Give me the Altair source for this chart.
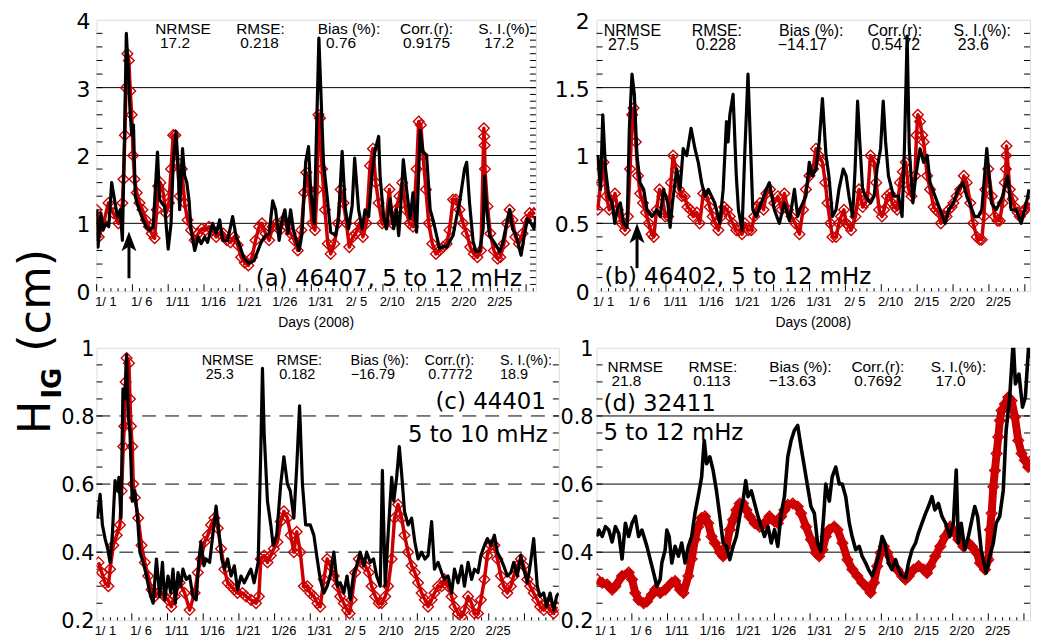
import altair as alt
import numpy as np
import pandas as pd

RED = "#cc0000"

# ---------------- x tick labels ----------------
tick_days = [1, 6, 11, 16, 21, 26, 31, 36, 41, 46, 51, 56]
tick_labels = ["1/ 1", "1/ 6", "1/11", "1/16", "1/21", "1/26", "1/31",
               "2/ 5", "2/10", "2/15", "2/20", "2/25"]

stat_names = ["NRMSE", "RMSE:", "Bias (%):", "Corr.(r):", "S. I.(%):"]

# y tick values / labels / gridlines per panel
a_yticks = [0, 1, 2, 3, 4]
a_ylabels = ["0", "1", "2", "3", "4"]
a_grid = [1, 2, 3]
b_yticks = [0, 0.5, 1, 1.5, 2]
b_ylabels = ["0", "0.5", "1", "1.5", "2"]
b_grid = [0.5, 1, 1.5]
cd_yticks = [0.2, 0.4, 0.6, 0.8, 1.0]
cd_ylabels = ["0.2", "0.4", "0.6", "0.8", "1"]
cd_grid = [0.4, 0.6, 0.8]

# ---------------- panel (a) 46407 ----------------
a_obs_day = [-0.3, -0.1, 0.3, 0.6, 1.0, 1.4, 1.8, 2.2, 2.6, 3.0, 3.3, 3.6, 3.85, 4.1, 4.35, 4.6, 4.85, 5.1,
             5.5, 6.0, 6.6, 7.1, 7.6, 8.2, 8.5, 8.8, 9.2, 9.7, 10.1, 10.4, 10.8, 11.1, 11.3, 11.7, 12.0,
             12.3, 12.6, 12.9, 13.4, 13.9, 14.3, 14.8, 15.2, 15.9, 16.4, 16.9, 17.3, 18.0, 18.7, 19.2,
             19.6, 20.3, 21.0, 21.7, 22.6, 23.1, 23.8, 24.3, 24.7, 25.2, 25.6, 26.0, 26.4, 26.8, 27.2,
             27.6, 28.0, 28.4, 28.9, 29.3, 29.6, 30.1, 30.75, 31.4, 31.9, 32.4, 33.1, 33.5, 34.0, 34.45,
             34.9, 35.4, 35.75, 36.3, 36.8, 37.2, 37.7, 38.2, 38.6, 39.1, 39.3, 39.8, 40.2, 40.7, 41.2,
             41.6, 41.9, 42.1, 42.55, 43.0, 43.5, 43.9, 44.4, 44.9, 45.3, 45.8, 46.3, 46.7, 47.2, 47.6,
             48.1, 48.6, 49.0, 49.5, 50.0, 50.4, 51.1, 51.4, 51.8, 52.3, 52.7, 53.2, 53.7, 53.9, 54.2,
             54.6, 55.5, 56.0, 56.4, 57.4, 57.8, 58.3, 59.0, 59.45, 59.9, 60.4, 60.8, 61.1]
a_obs_val = [1.2, 0.65, 1.15, 0.9, 1.0, 0.95, 1.6, 1.35, 1.1, 1.2, 0.75, 2.3, 3.8, 3.3, 2.7, 2.3, 2.45, 1.4,
             1.25, 1.1, 0.95, 0.9, 0.95, 2.05, 1.35, 1.3, 1.25, 0.62, 1.0, 1.9, 2.35, 1.8, 1.2, 2.1, 1.7,
             1.6, 1.35, 0.9, 0.6, 0.8, 0.7, 0.8, 0.72, 1.0, 0.85, 1.05, 0.75, 0.75, 1.1, 0.8,
             0.7, 0.48, 0.41, 0.45, 0.7, 0.8, 0.85, 1.33, 1.2, 0.75, 1.05, 1.2, 0.85, 1.2, 0.9,
             0.75, 0.6, 0.85, 1.9, 2.13, 1.5, 1.0, 3.73, 1.89, 1.4, 0.87, 0.82, 1.07, 2.06, 1.21,
             0.92, 1.26, 1.96, 1.2, 0.92, 1.2, 1.1, 1.75, 2.08, 2.28, 1.7, 1.1, 0.92, 1.36, 0.92,
             1.2, 0.82, 1.1, 1.94, 1.5, 1.07, 1.45, 0.87, 2.37, 2.05, 2.0, 1.2, 1.05, 0.82, 0.63,
             0.66, 0.65, 0.73, 0.82, 1.1, 1.3, 1.8, 1.9, 1.3, 0.73, 0.58, 0.6, 0.92, 1.7, 1.2,
             0.82, 0.68, 0.58, 0.7, 1.2, 0.92, 0.82, 0.53, 0.82, 1.07, 1.0, 0.92, 1.1]
a_mod_day = [-0.3, 0.0, 0.65, 1.35, 2.04, 2.74, 3.3, 3.45, 3.65, 3.8, 4.0, 4.2, 4.4, 4.6, 4.8, 5.0, 5.3, 5.7,
             6.1, 6.6, 7.0, 7.4, 7.8, 8.1, 8.3, 8.6, 9.0, 9.4, 9.8, 10.1, 10.4, 10.7, 11.0, 11.3, 11.6,
             12.0, 12.4, 12.9, 13.4, 13.9, 14.4, 14.9, 15.4, 15.9, 16.4, 16.9, 17.4, 17.9, 18.4, 18.9,
             19.4, 19.9, 20.4, 20.9, 21.4, 21.9, 22.4, 22.8, 23.3, 23.8, 24.3, 24.8, 25.3, 25.8, 26.3,
             26.8, 27.3, 27.8, 28.3, 28.7, 29.0, 29.4, 29.8, 30.2, 30.5, 30.7, 30.9, 31.2, 31.6, 32.0,
             32.4, 32.9, 33.4, 33.8, 34.2, 34.6, 35.0, 35.5, 35.9, 36.4, 36.9, 37.4, 37.9, 38.3, 38.7,
             39.1, 39.6, 40.1, 40.6, 41.0, 41.5, 42.0, 42.4, 42.9, 43.4, 43.9, 44.4, 44.7, 45.0, 45.3,
             45.7, 46.1, 46.6, 47.1, 47.6, 48.1, 48.6, 49.0, 49.5, 49.9, 50.4, 50.9, 51.4, 51.9, 52.4,
             52.9, 53.4, 53.8, 53.85, 53.9, 53.95, 54.3, 54.7, 55.2, 55.7, 56.1, 56.6, 57.0, 57.4, 57.8,
             58.2, 58.7, 59.2, 59.7, 60.2, 60.8]
a_mod_val = [1.2, 0.8, 1.0, 1.3, 1.15, 1.0, 1.3, 1.65, 2.3, 3.0, 3.5, 3.4, 2.95, 2.6, 2.0, 1.65, 1.45, 1.3,
             1.2, 1.05, 0.95, 0.85, 0.78, 1.2, 1.55, 1.6, 1.45, 1.15, 1.3, 1.8, 2.3, 2.3, 1.9, 1.4, 1.8,
             1.3, 1.05, 0.9, 0.75, 0.85, 0.92, 0.9, 0.95, 0.9, 0.8, 0.85, 0.85, 0.75, 0.72, 0.8,
             0.68, 0.5, 0.42, 0.38, 0.5, 0.75, 0.95, 1.0, 0.85, 0.75, 0.95, 1.0, 0.9, 1.05, 0.95,
             0.85, 0.75, 0.6, 0.9, 1.45, 1.75, 1.5, 1.0, 0.9, 1.5, 2.6, 2.55, 1.8, 1.2, 0.7,
             0.55, 0.7, 1.0, 1.5, 1.3, 1.0, 0.65, 0.8, 0.85, 1.0, 0.8, 1.0, 1.85, 2.1, 1.6,
             1.3, 1.0, 1.0, 1.5, 1.0, 1.2, 1.4, 1.6, 1.2, 1.0, 0.95, 1.8, 2.5, 2.45, 2.0,
             1.5, 1.0, 0.7, 0.55, 0.6, 0.65, 0.7, 0.9, 1.35, 1.35, 1.2, 1.0, 0.85, 0.65, 0.55,
             0.5, 0.6, 2.4, 2.28, 2.15, 1.8, 1.25, 0.85, 0.6, 0.48, 0.5, 0.7, 1.0, 1.2, 1.05,
             0.8, 0.7, 0.85, 1.05, 1.15, 1.15]

# ---------------- panel (b) 46402 ----------------
b_obs_day = [0.2, 0.58, 0.9, 1.28, 1.74, 2.2, 2.57, 2.9, 3.35, 3.8, 4.28, 4.6, 4.97, 5.3, 5.66, 6.1, 6.6,
             7.05, 7.74, 8.43, 8.9, 9.36, 9.96, 10.28, 10.6, 11.2, 11.66, 12.1, 12.6, 13.2, 13.74, 14.2,
             14.67, 15.13, 15.6, 16.05, 16.5, 17.2, 17.67, 18.13, 18.36, 18.6, 19.05, 19.5, 19.8, 20.3,
             20.67, 21.13, 21.6, 21.8, 22.3, 22.98, 23.67, 24.1, 24.8, 25.5, 26.2, 26.9, 27.6, 28.05,
             28.5, 29.2, 29.67, 30.1, 30.6, 31.05, 31.5, 32.0, 32.4, 32.9, 33.4, 33.8, 34.4, 34.8, 35.2,
             35.7, 36.05, 36.4, 36.7, 37.1, 37.5, 38.2, 38.7, 39.1, 39.6, 39.97, 40.3, 40.7, 41.4, 42.1,
             42.6, 42.95, 43.3, 43.6, 44.1, 44.5, 45.1, 45.6, 46.1, 46.5, 47.2, 47.9, 48.6, 49.1, 49.75,
             50.4, 51.1, 51.6, 52.0, 52.7, 53.2, 53.7, 54.4, 55.05, 55.7, 56.2, 56.6, 57.3, 57.8, 58.5,
             59.2, 59.9, 60.3]
b_obs_val = [1.0, 0.75, 1.3, 0.9, 0.7, 0.65, 0.5, 0.6, 0.65, 0.5, 0.47, 1.2, 1.6, 1.45, 1.0, 0.8, 0.75,
             0.6, 0.55, 0.6, 0.55, 0.75, 0.65, 0.47, 0.65, 0.9, 0.75, 1.05, 1.0, 1.2, 1.05, 0.95,
             0.8, 0.7, 0.75, 0.7, 0.65, 0.5, 0.75, 1.25, 1.1, 1.3, 1.45, 0.85, 0.6, 0.45,
             1.0, 1.6, 0.9, 0.6, 0.55, 0.65, 0.75, 0.8, 0.6, 0.5, 0.65, 0.52, 0.75, 0.55,
             0.62, 0.7, 0.95, 0.85, 0.9, 1.1, 1.42, 1.0, 0.85, 0.55, 0.6, 0.75, 0.9, 0.85, 0.7,
             0.55, 0.9, 1.4, 1.1, 0.75, 0.7, 0.65, 0.7, 0.9, 1.05, 1.4, 1.1, 0.85, 0.7, 0.7,
             0.55, 1.1, 1.88, 1.05, 0.65, 0.85, 1.05, 0.95, 1.0, 0.8, 0.7, 0.6, 0.5, 0.6, 0.65,
             0.75, 0.8, 0.7, 0.65, 0.55, 0.55, 0.6, 1.05, 0.65, 0.6, 0.65, 0.7, 0.85, 0.6, 0.6,
             0.5, 0.65, 0.75]
b_mod_day = [0.2, 0.6, 1.0, 1.4, 1.8, 2.2, 2.6, 3.0, 3.5, 4.0, 4.4, 4.7, 5.0, 5.2, 5.5, 5.8, 6.1, 6.5, 6.9,
             7.3, 7.7, 8.0, 8.4, 8.8, 9.2, 9.6, 10.0, 10.4, 10.7, 11.1, 11.5, 11.9, 12.3, 12.7, 13.1,
             13.5, 14.0, 14.4, 14.9, 15.4, 15.8, 16.2, 16.6, 17.0, 17.4, 17.8, 18.2, 18.6, 19.0, 19.5,
             19.9, 20.3, 20.7, 21.2, 21.6, 22.0, 22.4, 22.8, 23.3, 23.7, 24.2, 24.8, 25.3, 25.8, 26.2,
             26.7, 27.2, 27.7, 28.3, 28.8, 29.2, 29.7, 30.2, 30.6, 31.0, 31.5, 31.9, 32.2, 32.6, 32.9,
             33.4, 33.8, 34.1, 34.5, 34.8, 35.2, 35.5, 36.1, 36.6, 37.1, 37.5, 37.8, 38.2, 38.7, 39.0,
             39.4, 39.8, 40.1, 40.5, 40.9, 41.2, 41.6, 41.9, 42.3, 42.7, 43.1, 43.5, 43.9, 44.4, 44.6,
             44.8, 45.1, 45.4, 45.6, 46.1, 46.5, 47.0, 47.3, 47.7, 48.0, 48.4, 48.8, 49.1, 49.5, 49.75,
             50.2, 50.7, 51.2, 51.6, 52.1, 52.5, 53.0, 53.4, 53.7, 54.0, 54.2, 54.6, 55.1, 55.5, 55.9,
             56.2, 56.6, 56.9, 57.05, 57.1, 57.15, 57.6, 58.0, 58.3, 58.7, 59.0, 59.4, 59.7, 60.0, 60.4]
b_mod_val = [0.6, 0.8, 0.95, 0.7, 0.6, 0.65, 0.72, 0.6, 0.5, 0.45, 0.55, 0.9, 1.3, 1.35, 1.1, 0.85, 0.72,
             0.65, 0.58, 0.5, 0.42, 0.4, 0.6, 0.75, 0.7, 0.55, 0.55, 0.8, 1.0, 0.9, 0.75, 0.7, 0.7,
             0.62, 0.6, 0.55, 0.58, 0.5, 0.72, 0.7, 0.62, 0.55, 0.5, 0.45, 0.55, 0.62, 0.6, 0.55,
             0.5, 0.45, 0.45, 0.42, 0.5, 0.45, 0.45, 0.55, 0.62, 0.65, 0.6, 0.72, 0.75, 0.65, 0.7,
             0.6, 0.72, 0.6, 0.55, 0.5, 0.42, 0.6, 0.75, 0.85, 0.9, 1.05, 1.0, 0.95, 0.8, 0.65,
             0.5, 0.4, 0.4, 0.5, 0.55, 0.6, 0.5, 0.48, 0.45, 0.55, 0.75, 0.62, 0.65, 0.7, 1.0,
             0.95, 0.8, 0.6, 0.55, 0.6, 0.7, 0.72, 0.65, 0.62, 0.6, 0.8, 0.88, 0.95, 0.75, 0.7,
             0.85, 1.15, 1.3, 1.25, 1.15, 1.1, 0.85, 0.75, 0.62, 0.6, 0.58, 0.5, 0.55, 0.55, 0.6,
             0.62, 0.65, 0.7, 0.75, 0.85, 0.8, 0.65, 0.5, 0.4, 0.38, 0.38, 0.55, 0.75, 0.9, 0.7,
             0.55, 0.52, 0.52, 0.65, 0.8, 0.9, 1.0, 1.07, 0.75, 0.68, 0.62, 0.58, 0.55, 0.58, 0.6,
             0.62, 0.65]

# ---------------- panel (c) 44401 ----------------
c_obs_day = [-0.11, 0.26, 0.58, 0.95, 1.32, 1.65, 1.97, 2.35, 2.72, 2.9, 3.18, 3.46, 3.74, 3.97, 4.2, 4.44,
             4.76, 5.13, 5.5, 5.83, 6.3, 6.76, 7.22, 7.69, 8.15, 8.61, 8.99, 9.31, 9.77, 10.15, 10.47,
             10.8, 11.17, 11.54, 11.86, 12.33, 12.8, 13.26, 13.72, 14.1, 14.4, 14.8, 15.1, 15.6, 16.04,
             16.5, 16.8, 17.3, 17.67, 18.13, 18.6, 19.06, 19.52, 19.99, 20.45, 20.9, 21.38, 21.84, 22.4,
             22.77, 23.0, 23.24, 23.7, 24.17, 24.5, 25.0, 25.56, 26.0, 26.5, 26.9, 27.4, 27.8, 28.2,
             28.6, 29.05, 29.7, 30.2, 30.67, 31.1, 31.6, 32.06, 32.5, 33.0, 33.5, 33.9, 34.4, 34.85,
             35.3, 35.78, 36.2, 36.7, 37.2, 37.6, 38.1, 38.56, 39.0, 39.5, 39.8, 40.2, 40.6, 41.1,
             41.4, 41.8, 42.17, 42.5, 42.9, 43.4, 43.9, 44.35, 44.8, 45.3, 45.76, 46.2, 46.7, 47.1,
             47.6, 48.1, 48.5, 49.0, 49.5, 49.9, 50.4, 50.9, 51.3, 51.8, 52.3, 52.7, 53.2, 53.6, 54.1,
             54.5, 55.0, 55.5, 55.9, 56.4, 56.8, 57.3, 57.8, 58.2, 58.7, 59.2, 59.6, 60.1, 60.5, 61.0,
             61.5, 61.9, 62.4, 62.8, 63.3, 63.8, 64.2, 64.5]
c_obs_val = [0.5, 0.57, 0.48, 0.44, 0.41, 0.37, 0.45, 0.61, 0.58, 0.62, 0.5, 0.88, 0.85, 0.98, 0.8, 0.75,
             0.55, 0.58, 0.5, 0.4, 0.37, 0.33, 0.28, 0.25, 0.38, 0.27, 0.37, 0.26, 0.33, 0.28, 0.35,
             0.25, 0.34, 0.3, 0.35, 0.32, 0.33, 0.27, 0.26, 0.38, 0.43, 0.36, 0.38, 0.37, 0.45,
             0.535, 0.48, 0.38, 0.35, 0.38, 0.33, 0.36, 0.29, 0.33, 0.31, 0.33, 0.35, 0.31, 0.37,
             0.7, 0.94, 0.75, 0.55, 0.48, 0.42, 0.45, 0.6, 0.68, 0.6, 0.58, 0.5, 0.65, 0.83,
             0.6, 0.48, 0.48, 0.45, 0.38, 0.32, 0.28, 0.3, 0.33, 0.4, 0.3, 0.31, 0.28, 0.33,
             0.26, 0.34, 0.36, 0.4, 0.36, 0.4, 0.37, 0.38, 0.33, 0.3, 0.64, 0.3, 0.45, 0.62,
             0.55, 0.62, 0.71, 0.63, 0.52, 0.48, 0.5, 0.43, 0.38, 0.4, 0.38, 0.39, 0.49, 0.35,
             0.37, 0.34, 0.32, 0.33, 0.28, 0.35, 0.31, 0.36, 0.3, 0.37, 0.32, 0.35, 0.34, 0.39, 0.42,
             0.44, 0.42, 0.45, 0.4, 0.38, 0.36, 0.33, 0.34, 0.37, 0.33, 0.39, 0.35, 0.31, 0.36, 0.44,
             0.3, 0.27, 0.28, 0.24, 0.28, 0.23, 0.27, 0.28]
c_mod_day = [0.03, 0.49, 0.95, 1.42, 1.65, 2.11, 2.58, 3.04, 3.27, 3.5, 3.65, 3.83, 3.97, 4.3, 4.44, 4.57,
             4.76, 4.9, 5.13, 5.6, 6.06, 6.52, 6.99, 7.45, 7.92, 8.38, 8.85, 9.31, 9.77, 10.24, 10.7,
             11.4, 12.1, 12.8, 13.5, 13.95, 14.4, 14.9, 15.35, 15.8, 16.27, 16.74, 17.2, 17.67, 18.13,
             18.6, 19.06, 19.5, 20.2, 20.7, 21.4, 22.1, 22.5, 22.77, 23.24, 23.7, 24.17, 24.6, 25.1,
             25.56, 26.0, 26.5, 26.95, 27.4, 27.8, 28.3, 28.8, 29.3, 29.7, 30.2, 30.7, 31.1, 31.6,
             32.06, 32.5, 33.0, 33.5, 33.9, 34.4, 34.85, 35.2, 35.5, 36.0, 36.5, 36.9, 37.4, 37.9,
             38.3, 38.8, 39.3, 39.7, 40.2, 40.6, 41.1, 41.5, 42.0, 42.5, 42.9, 43.4, 43.9, 44.35,
             44.8, 45.3, 45.76, 46.2, 46.7, 47.1, 47.6, 48.1, 48.5, 49.0, 49.5, 49.9, 50.4, 50.9,
             51.3, 51.8, 52.3, 52.7, 53.2, 53.6, 54.1, 54.5, 55.0, 55.5, 55.9, 56.4, 56.8, 57.3,
             57.8, 58.2, 58.7, 59.2, 59.6, 60.1, 60.5, 61.0, 61.5, 61.9, 62.4, 62.8, 63.3, 63.8, 64.2]
c_mod_val = [0.37, 0.34, 0.31, 0.3, 0.35, 0.42, 0.45, 0.48, 0.58, 0.71, 0.77, 0.9, 0.97, 0.955, 0.85, 0.77,
             0.71, 0.6, 0.56, 0.5, 0.42, 0.37, 0.33, 0.29, 0.27, 0.28, 0.28, 0.27, 0.26, 0.24, 0.27,
             0.31, 0.28, 0.23, 0.28, 0.34, 0.38, 0.43, 0.45, 0.48, 0.5, 0.47, 0.41, 0.35, 0.31,
             0.3, 0.29, 0.28, 0.28, 0.27, 0.26, 0.25, 0.27, 0.38, 0.39, 0.37, 0.39, 0.41, 0.43,
             0.49, 0.52, 0.5, 0.45, 0.4, 0.46, 0.4, 0.3, 0.3, 0.28, 0.27, 0.25, 0.24, 0.32,
             0.38, 0.36, 0.33, 0.3, 0.27, 0.25, 0.23, 0.22, 0.26, 0.34, 0.38, 0.37, 0.36, 0.34,
             0.3, 0.27, 0.25, 0.25, 0.27, 0.3, 0.38, 0.5, 0.54, 0.5, 0.45, 0.4, 0.36, 0.34,
             0.31, 0.28, 0.26, 0.24, 0.26, 0.28, 0.3, 0.3, 0.32, 0.3, 0.27, 0.24, 0.22, 0.21,
             0.23, 0.27, 0.25, 0.22, 0.22, 0.26, 0.32, 0.39, 0.42, 0.42, 0.38, 0.33, 0.3, 0.28,
             0.3, 0.33, 0.36, 0.38, 0.36, 0.32, 0.3, 0.28, 0.26, 0.24, 0.23, 0.25, 0.23, 0.22, 0.24]

# ---------------- panel (d) 32411 ----------------
d_obs_day = [-0.26, 0.07, 0.54, 1.0, 1.46, 1.93, 2.39, 2.86, 3.32, 3.79, 4.25, 4.72, 5.18, 5.65, 6.11, 6.81,
             7.28, 7.74, 8.2, 8.67, 8.9, 9.37, 9.6, 9.93, 10.3, 10.76, 11.23, 11.69, 12.16, 12.62, 13.09,
             13.55, 14.0, 14.48, 14.85, 15.18, 15.64, 16.1, 16.57, 17.04, 17.5, 17.97, 18.43, 18.9, 19.36,
             19.83, 20.3, 20.67, 21.0, 21.46, 21.92, 22.39, 22.85, 23.3, 23.8, 24.25, 24.71, 25.17, 25.64,
             26.1, 26.57, 27.04, 27.5, 27.96, 28.43, 28.9, 29.36, 29.82, 30.3, 30.75, 31.2, 31.6, 31.9,
             32.4, 32.8, 33.3, 33.8, 34.2, 34.7, 35.2, 35.6, 36.1, 36.6, 37.0, 37.5, 37.9, 38.4, 38.9,
             39.3, 39.8, 40.2, 40.7, 41.2, 41.7, 42.1, 42.6, 43.1, 43.5, 44.0, 44.5, 44.9, 45.4, 45.9,
             46.3, 46.8, 47.2, 47.7, 48.2, 48.7, 49.3, 49.8, 50.2, 50.5, 50.9, 51.4, 51.9, 52.3, 52.8,
             53.2, 53.7, 54.4, 54.9, 55.4, 55.8, 56.3, 56.8, 57.2, 57.7, 58.2, 58.5, 59.0, 59.5, 59.9,
             60.4, 60.6]
d_obs_val = [0.446, 0.465, 0.446, 0.475, 0.465, 0.43, 0.475, 0.455, 0.38, 0.485, 0.446, 0.485, 0.505, 0.446,
             0.465, 0.417, 0.378, 0.34, 0.3, 0.32, 0.368, 0.407, 0.465, 0.446, 0.368, 0.417, 0.388, 0.427,
             0.368, 0.417, 0.446, 0.514, 0.563, 0.62, 0.728, 0.66, 0.68, 0.64, 0.58, 0.505, 0.427, 0.417,
             0.378, 0.417, 0.446, 0.505, 0.553, 0.61, 0.563, 0.58, 0.543, 0.505, 0.475, 0.446, 0.475,
             0.427, 0.466, 0.417, 0.514, 0.563, 0.68, 0.728, 0.758, 0.772, 0.709, 0.65, 0.592, 0.534,
             0.514, 0.427, 0.402, 0.505, 0.6, 0.55, 0.621, 0.65, 0.6, 0.6, 0.563, 0.485, 0.446, 0.407,
             0.417, 0.388, 0.368, 0.349, 0.33, 0.359, 0.388, 0.446, 0.427, 0.368, 0.349, 0.378, 0.349,
             0.33, 0.325, 0.368, 0.407, 0.427, 0.456, 0.485, 0.514, 0.534, 0.563, 0.524, 0.543, 0.505,
             0.485, 0.446, 0.485, 0.641, 0.427, 0.485, 0.407, 0.446, 0.485, 0.534, 0.505, 0.407, 0.339,
             0.388, 0.427, 0.485, 0.505, 0.582, 0.758, 0.855, 1.02, 0.894, 0.923, 0.826, 0.855, 1.02, 0.97]
d_mod_day = [-0.16, 0.54, 1.23, 1.93, 2.39, 3.32, 4.25, 4.72, 5.18, 5.65, 6.35, 6.81, 7.5, 7.97, 8.67, 9.37,
             10.3, 10.76, 11.46, 11.93, 12.62, 13.09, 13.55, 14.0, 14.48, 14.95, 15.41, 15.88, 16.34,
             17.04, 17.5, 17.97, 18.43, 18.9, 19.36, 19.83, 20.3, 20.76, 21.22, 21.92, 22.62, 23.3, 24.0,
             24.7, 25.17, 25.64, 26.1, 26.57, 27.27, 27.96, 28.43, 29.13, 29.82, 30.52, 30.98, 31.45,
             31.9, 32.38, 33.08, 33.54, 34.24, 34.94, 35.63, 36.33, 37.03, 37.73, 38.19, 38.66, 39.12,
             39.59, 40.05, 40.52, 41.21, 41.91, 42.61, 43.07, 43.54, 44.24, 44.93, 45.63, 46.1, 46.56,
             47.26, 47.96, 48.65, 49.35, 50.05, 50.52, 51.21, 51.91, 52.38, 53.08, 53.54, 54.24, 54.7,
             54.94, 55.17, 55.4, 55.63, 55.87, 56.1, 56.33, 56.56, 57.03, 57.5, 57.96, 58.43, 58.9,
             59.36, 59.83, 60.3, 60.74]
d_mod_val = [0.32, 0.31, 0.305, 0.29, 0.3, 0.33, 0.34, 0.32, 0.28, 0.26, 0.25, 0.255, 0.275, 0.29, 0.28, 0.29,
             0.31, 0.315, 0.29, 0.28, 0.33, 0.38, 0.437, 0.475, 0.5, 0.505, 0.485, 0.446, 0.427,
             0.4, 0.388, 0.417, 0.466, 0.495, 0.524, 0.543, 0.543, 0.524, 0.505, 0.485, 0.475, 0.485, 0.505,
             0.49, 0.485, 0.505, 0.524, 0.539, 0.543, 0.534, 0.514, 0.475, 0.437, 0.398, 0.388, 0.407,
             0.446, 0.466, 0.475, 0.466, 0.427, 0.378, 0.349, 0.33, 0.31, 0.295, 0.281, 0.31, 0.359,
             0.398, 0.417, 0.398, 0.368, 0.349, 0.33, 0.32, 0.33, 0.349, 0.359, 0.349, 0.339, 0.359,
             0.388, 0.417, 0.446, 0.475, 0.456, 0.437, 0.417, 0.427, 0.417, 0.398, 0.368, 0.349, 0.378,
             0.466, 0.514, 0.592, 0.64, 0.69, 0.738, 0.787, 0.816, 0.835, 0.855, 0.845, 0.797, 0.728,
             0.69, 0.67, 0.65, 0.67]

# ---------------- statistics ----------------
a_stats = ["17.2", "0.218", "0.76", "0.9175", "17.2"]
b_stats = ["27.5", "0.228", "\u221214.17", "0.5472", "23.6"]
c_stats = ["25.3", "0.182", "\u221216.79", "0.7772", "18.9"]
d_stats = ["21.8", "0.113", "\u221213.63", "0.7692", "17.0"]

# arrows (day, tip value, base value)
a_arrow = [4.22, 0.88, 0.19]
b_arrow = [5.67, 0.50, 0.17]

one = pd.DataFrame({"k": [0]})


def txt(s, x, y, size, font="Liberation Sans", align="center", weight="normal", angle=0):
    kw = dict(align=align, baseline="alphabetic", font=font, fontSize=size, color="black",
              fontWeight=weight)
    if angle:
        kw["angle"] = angle
    return alt.Chart(one).mark_text(**kw).encode(
        x=alt.value(x), y=alt.value(y), text=alt.value(s))


def panel(obs_d, obs_v, mod_d, mod_v, xdom, ydom, yticks, ylabels, grid, yfont, ypad, minor_l, minor_r,
          W, H, dash, xtitle, stats, lab_x, val_x, lab_y, val_y, ssize, tags, band, lw=3.2,
          arrow=None, extra=()):
    xs = alt.Scale(domain=xdom, nice=False, zero=False)
    ys = alt.Scale(domain=ydom, nice=False, zero=False)
    X = lambda f: alt.X(f, scale=xs, axis=None)
    Y = lambda f: alt.Y(f, scale=ys, axis=None)

    obs = pd.DataFrame({"day": obs_d, "val": obs_v})
    mod = pd.DataFrame({"day": mod_d, "val": mod_v})

    layers = []
    # gridlines
    gkw = dict(color="black", strokeWidth=1)
    if dash:
        gkw["strokeDash"] = dash
    layers.append(alt.Chart(pd.DataFrame({"g": grid})).mark_rule(**gkw).encode(
        y=Y("g:Q"), x=alt.value(0), x2=alt.value(W)))
    # y tick labels
    layers.append(alt.Chart(pd.DataFrame({"v": yticks, "lab": ylabels})).mark_text(
        align="right", baseline="middle", dy=2, font="DejaVu Sans", fontSize=yfont, color="black").encode(
        y=Y("v:Q"), x=alt.value(-ypad), text="lab:N"))
    # x tick labels
    layers.append(alt.Chart(pd.DataFrame({"d": tick_days, "lab": tick_labels})).mark_text(
        align="center", baseline="top", font="Liberation Sans", fontSize=13, color="black").encode(
        x=X("d:Q"), y=alt.value(H + 5), text="lab:N"))
    if xtitle:
        layers.append(txt(xtitle, W / 2, H + 36, 14))
    # inward minor ticks
    layers.append(alt.Chart(pd.DataFrame({"v": minor_l})).mark_rule(color="black", strokeWidth=1).encode(
        y=Y("v:Q"), x=alt.value(0), x2=alt.value(6)))
    layers.append(alt.Chart(pd.DataFrame({"v": minor_r})).mark_rule(color="black", strokeWidth=1).encode(
        y=Y("v:Q"), x=alt.value(W - 6), x2=alt.value(W)))
    kday = [k + 0.7 for k in range(-1, 66) if xdom[0] < k + 0.7 < xdom[1]]
    small = pd.DataFrame({"d": [d for d in kday if round(d - 0.7) % 5 != 4]})
    tall = pd.DataFrame({"d": [d for d in kday if round(d - 0.7) % 5 == 4]})
    layers.append(alt.Chart(small).mark_rule(color="black", strokeWidth=1).encode(
        x=X("d:Q"), y=alt.value(H - 3), y2=alt.value(H)))
    layers.append(alt.Chart(tall).mark_rule(color="black", strokeWidth=1).encode(
        x=X("d:Q"), y=alt.value(H - 7), y2=alt.value(H)))

    # statistics text
    for name, lx in zip(stat_names, lab_x):
        layers.append(txt(name, lx, lab_y, ssize))
    for s, vx in zip(stats, val_x):
        layers.append(txt(s, vx, val_y, ssize))

    # model: red chain of diamonds
    layers.append(alt.Chart(mod).mark_line(color=RED, strokeWidth=band, clip=True, strokeJoin="round").encode(
        x=X("day:Q"), y=Y("val:Q")))
    layers.append(alt.Chart(mod).mark_point(shape="diamond", filled=False, color=RED, size=115,
                                             strokeWidth=1.4, opacity=1, clip=True).encode(
        x=X("day:Q"), y=Y("val:Q")))
    # observation (black line)
    layers.append(alt.Chart(obs).mark_line(color="black", strokeWidth=lw, clip=True,
                                            strokeJoin="round").encode(
        x=X("day:Q"), y=Y("val:Q")))

    # arrow
    if arrow:
        px_per = H / (ydom[1] - ydom[0])
        ad = pd.DataFrame({"day": [arrow[0]], "tip": [arrow[1]], "base": [arrow[2]]})
        ad["top"] = ad["tip"] - 15.0 / px_per
        layers.append(alt.Chart(ad).mark_rule(color="black", strokeWidth=3).encode(
            x=X("day:Q"), y=Y("base:Q"), y2="top:Q"))
        layers.append(alt.Chart(ad).mark_point(shape="M0,0 L0.75,2 L0,1.5 L-0.75,2 Z", filled=True,
                                                color="black", size=400, opacity=1,
                                                strokeWidth=0).encode(
            x=X("day:Q"), y=Y("tip:Q")))

    for (s, x, y, al) in tags:
        layers.append(txt(s, x, y, 23, font="DejaVu Sans", align=al))
    layers.extend(extra)
    return alt.layer(*layers).properties(width=W, height=H)


def steps(lo, hi, st):
    n = int(round((hi - lo) / st))
    return [round(lo + i * st, 3) for i in range(n + 1)]


# big shared y title (placed relative to panel (c))
title_layers = [
    txt("H", -47, 87, 45, font="DejaVu Sans", align="left", angle=270),
    txt("IG", -36, 51, 26, font="DejaVu Sans", align="left", weight="bold", angle=270),
    txt("(cm)", -47, 4, 45, font="DejaVu Sans", align="left", angle=270),
]

A = panel(a_obs_day, a_obs_val, a_mod_day, a_mod_val, [-0.32, 61.07], [0, 4], a_yticks, a_ylabels, a_grid,
          22, 6, steps(0.2, 3.8, 0.2), steps(0.1, 3.9, 0.1), 442, 273, None, "Days (2008)", a_stats,
          [87, 165, 254, 332, 412], [79, 164, 246, 332, 405], 14, 28, 15.5,
          [("(a) 46407, 5 to 12 mHz", 428, 268, "right")], 3.5, arrow=a_arrow)
B = panel(b_obs_day, b_obs_val, b_mod_day, b_mod_val, [0.03, 60.42], [0, 2], b_yticks, b_ylabels, b_grid,
          22, 7, steps(0.1, 1.9, 0.1), steps(0.1, 1.9, 0.1), 436, 273, None, "Days (2008)", b_stats,
          [36, 121, 216, 300, 388], [27, 120, 207, 301, 379], 16, 30, 16,
          [("(b) 46402, 5 to 12 mHz", 8, 266, "left")], 3.5, arrow=b_arrow)
C = panel(c_obs_day, c_obs_val, c_mod_day, c_mod_val, [-0.25, 64.51], [0.2, 1.0], cd_yticks, cd_ylabels,
          cd_grid, 21, 2, steps(0.25, 0.95, 0.05), steps(0.25, 0.95, 0.05), 465, 274, [14, 9], None,
          c_stats, [132, 204, 285, 355, 432], [124, 202, 278, 356, 420], 17, 31, 14.5,
          [("(c) 44401", 452, 61, "right"), ("5 to 10 mHz", 454, 95, "right")], 3.5, extra=title_layers)
D = panel(d_obs_day, d_obs_val, d_mod_day, d_mod_val, [-0.255, 60.55], [0.2, 1.0], cd_yticks, cd_ylabels,
          cd_grid, 21, 3, steps(0.25, 0.95, 0.05), steps(0.25, 0.95, 0.05), 436, 274, None, None, d_stats,
          [39, 117, 205, 283, 364], [30, 116, 197, 283, 356], 24, 38, 15.5,
          [("(d) 32411", 7, 64, "left"), ("5 to 12 mHz", 7, 93, "left")], 8, lw=3.6)

chart = alt.concat(A, B, C, D, columns=2, spacing={"row": 57, "column": 38}, bounds="flush",
                   align="each").properties(
    padding={"left": 5, "top": 0, "right": 0, "bottom": 0}
).configure_view(stroke="black", strokeWidth=1.5).configure(background="white")

chart.save("out.html", embed_options={"renderer": "svg", "actions": False})
